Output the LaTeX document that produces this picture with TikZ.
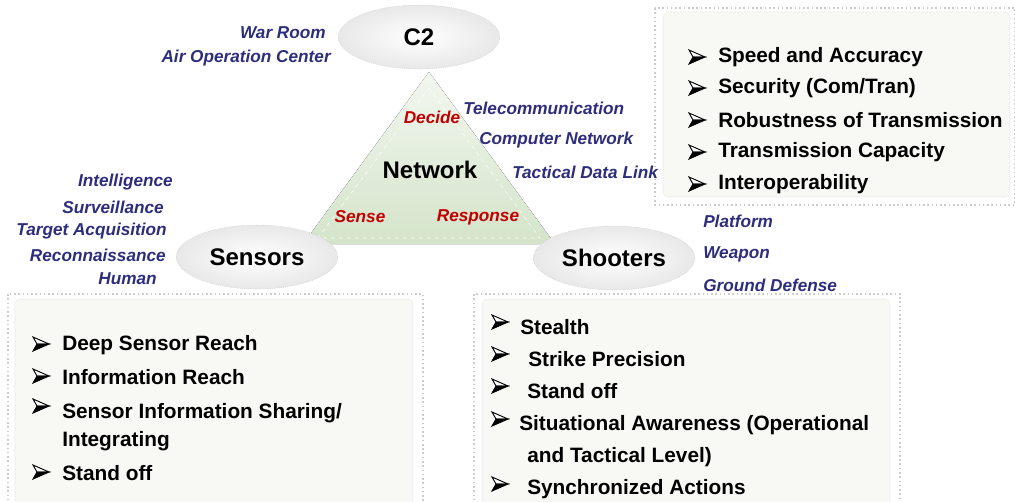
\documentclass[tikz,border=0pt]{standalone}
\usepackage{fontspec}
\setmainfont{Liberation Sans}
\usepackage{tikz}
\usetikzlibrary{positioning}
\usetikzlibrary{shapes.geometric}
\definecolor{navy}{RGB}{45,45,125}
\definecolor{alertred}{RGB}{195,0,0}
\definecolor{panelfill}{RGB}{248,248,245}
\definecolor{trigreen}{RGB}{212,228,202}
\tikzset{
	hub/.style={ellipse, minimum width=121pt, minimum height=48pt, inner color=white, outer color=gray!18, draw=gray!45, densely dotted, font=\fontsize{18}{20}\selectfont\bfseries},
	tag/.style={font=\fontsize{12.9}{15}\selectfont\bfseries\itshape, text=navy, inner sep=0pt},
	verb/.style={font=\fontsize{12.9}{15}\selectfont\bfseries\itshape, text=alertred, inner sep=0pt},
	entry/.style={font=\fontsize{15.6}{18}\selectfont\bfseries, anchor=west, inner sep=0pt},
	frame/.style={draw=gray!40, dotted, line width=1.2pt},
	panel/.style={fill=panelfill, draw=gray!15, rounded corners=4pt},
	pointer/.pic={
		\draw[line width=0.7pt, line join=miter, fill=white] (-8, -7) -- (8, 0) -- (-4, 0) -- cycle;
		\filldraw[line width=0.7pt, line join=miter] (-4, 0) -- (8, 0) -- (-8, 7) -- cycle;
	},
}
\begin{document}
\begin{tikzpicture}[x=0.75pt, y=-0.75pt]
	\useasboundingbox (0, 0) rectangle (1015, 501);
	% panels
	\draw[frame] (655, 8) rectangle (1015, 205);
	\filldraw[panel] (663, 12) rectangle (1010, 197);
	\draw[frame] (8, 294) rectangle (423, 510);
	\filldraw[panel] (15, 299) rectangle (413, 510);
	\draw[frame] (474, 294) rectangle (900, 510);
	\filldraw[panel] (482, 299) rectangle (890, 510);
	% triangle
	\fill[top color=trigreen!30, bottom color=trigreen] (429, 72) -- (555, 244) -- (303, 244) -- cycle;
	\draw[white, dashed] (429, 88) -- (540, 238) -- (318, 238) -- cycle;
	\node[font=\fontsize{18}{20}\selectfont\bfseries] (net) at (430, 170) {Network};
	\node[verb] (decide) at (432, 117) {Decide};
	\node[verb] (sense) at (360, 217) {Sense};
	\node[verb] (response) at (478, 217) {Response};
	% hubs
	\node[hub] (c2) at (419, 37) {C2};
	\node[hub] (sensors) at (257, 257) {Sensors};
	\node[hub] (shooters) at (614, 258) {Shooters};
	% labels
	\node[tag, anchor=east] (warroom) at (326, 33) {War Room};
	\node[tag, anchor=east] (aoc) at (331, 58) {Air Operation Center};
	\node[tag, anchor=west] (telecom) at (463, 108) {Telecommunication};
	\node[tag, anchor=west] (compnet) at (479, 140) {Computer Network};
	\node[tag, anchor=west] (tdl) at (512, 172) {Tactical Data Link};
	\node[tag, anchor=east] (intel) at (173, 182) {Intelligence};
	\node[tag, anchor=east] (surv) at (164, 207) {Surveillance};
	\node[tag, anchor=east] (target) at (167, 231) {Target Acquisition};
	\node[tag, anchor=east] (recon) at (166, 255) {Reconnaissance};
	\node[tag, anchor=east] (human) at (157, 279) {Human};
	\node[tag, anchor=west] (platform) at (703, 221) {Platform};
	\node[tag, anchor=west] (weapon) at (703, 254) {Weapon};
	\node[tag, anchor=west] (ground) at (703, 285) {Ground Defense};
	% network needs
	\pic (nb1) at (697, 57) {pointer};
	\node[entry] (n1) at (718, 57) {Speed and Accuracy};
	\pic (nb2) at (697, 88) {pointer};
	\node[entry] (n2) at (718, 88) {Security (Com/Tran)};
	\pic (nb3) at (697, 120) {pointer};
	\node[entry] (n3) at (718, 120) {Robustness of Transmission};
	\pic (nb4) at (697, 152) {pointer};
	\node[entry] (n4) at (718, 152) {Transmission Capacity};
	\pic (nb5) at (697, 184) {pointer};
	\node[entry] (n5) at (718, 184) {Interoperability};
	% sensor needs
	\pic (sb1) at (41, 344) {pointer};
	\node[entry] (s1) at (62, 345) {Deep Sensor Reach};
	\pic (sb2) at (41, 376) {pointer};
	\node[entry] (s2) at (62, 377) {Information Reach};
	\pic (sb3) at (41, 406) {pointer};
	\node[entry] (s3) at (62, 413) {Sensor Information Sharing/};
	\node[entry] (s3b) at (62, 441) {Integrating};
	\pic (sb4) at (41, 472) {pointer};
	\node[entry] (s4) at (62, 473) {Stand off};
	% shooter needs
	\pic (hb1) at (500, 322) {pointer};
	\node[entry] (h1) at (520, 327) {Stealth};
	\pic (hb2) at (500, 354) {pointer};
	\node[entry] (h2) at (528, 359) {Strike Precision};
	\pic (hb3) at (500, 386) {pointer};
	\node[entry] (h3) at (527, 391) {Stand off};
	\pic (hb4) at (500, 419) {pointer};
	\node[entry] (h4) at (519, 425) {Situational Awareness (Operational};
	\node[entry] (h4b) at (527, 457) {and Tactical Level)};
	\pic (hb5) at (500, 484) {pointer};
	\node[entry] (h5) at (527, 489) {Synchronized Actions};
\end{tikzpicture}
\end{document}
